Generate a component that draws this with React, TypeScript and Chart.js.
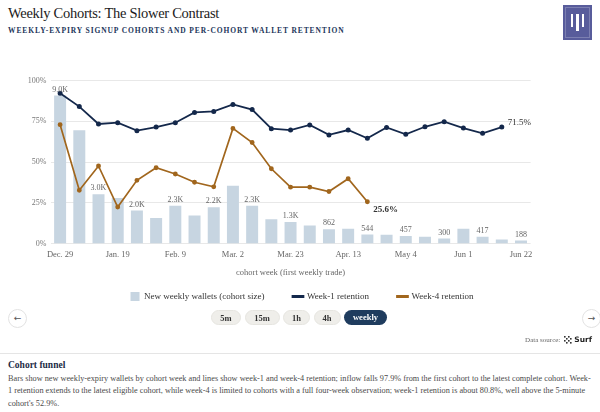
import React, { useEffect, useRef } from "react";
import { Chart, registerables } from "chart.js";

Chart.register(...registerables);

// ---- data ----
const weeks = [
  "Dec. 29", "Jan. 5", "Jan. 12", "Jan. 19", "Jan. 26", "Feb. 2", "Feb. 9", "Feb. 16", "Feb. 23",
  "Mar. 2", "Mar. 9", "Mar. 16", "Mar. 23", "Mar. 30", "Apr. 6", "Apr. 13", "Apr. 20", "Apr. 27",
  "May 4", "May 11", "May 18", "Jun 1", "Jun 8", "Jun 15", "Jun 22",
];
const shownTicks = ["Dec. 29", "Jan. 19", "Feb. 9", "Mar. 2", "Mar. 23", "Apr. 13", "May 4", "Jun 1", "Jun 22"];
const newWallets = [
  9000, 6880, 3000, 2770, 2000, 1550, 2300, 1710, 2200, 3510, 2300, 1470, 1300,
  1090, 862, 890, 544, 525, 457, 405, 300, 890, 417, 240, 188,
];
const week1Retention = [
  92.3, 84.1, 73.4, 74.2, 69.3, 71.5, 74.2, 80.5, 81.1, 85.4, 82.3, 70.5, 69.7,
  72.8, 66.7, 69.7, 64.6, 71.3, 67.1, 71.7, 74.8, 70.9, 67.7, 71.5, null,
];
const week4Retention = [
  73.0, 32.7, 47.6, 22.4, 38.8, 46.5, 42.7, 37.6, 34.8, 70.7, 62.0, 45.9, 34.6,
  34.6, 31.9, 39.8, 25.6, null, null, null, null, null, null, null, null,
];
const yTicks = [0, 25, 50, 75, 100];
const seriesNames = ["New weekly wallets (cohort size)", "Week-1 retention", "Week-4 retention"];
const timeframes = ["5m", "15m", "1h", "4h", "weekly"];

const SERIF = "'Liberation Serif', 'Times New Roman', serif";
const NAVY = "#14284b";
const ORANGE = "#a1661d";
const BAR = "#c7d5e1";
const LEGEND_CENTER_X = 302;

function fmtCount(v: number) {
  return v >= 1000 ? (v / 1000).toFixed(1) + "K" : String(Math.round(v));
}
function lastIndex(arr: (number | null)[]) {
  for (let i = arr.length - 1; i >= 0; i--) if (arr[i] != null) return i;
  return -1;
}

function CohortChart() {
  const ref = useRef<HTMLCanvasElement>(null);
  useEffect(() => {
    if (!ref.current) return;
    const labelPlugin = {
      id: "cohortLabels",
      afterLayout(chart: any) {
        const lg = chart.legend;
        if (!lg) return;
        const shift = LEGEND_CENTER_X - (lg.left + lg.right) / 2;
        lg.left += shift;
        lg.right += shift;
      },
      afterDatasetsDraw(chart: any) {
        const ctx = chart.ctx;
        ctx.save();
        const barMeta = chart.getDatasetMeta(0);
        ctx.font = `8px ${SERIF}`;
        ctx.fillStyle = "#666";
        ctx.textAlign = "center";
        ctx.textBaseline = "bottom";
        barMeta.data.forEach((el: any, j: number) => {
          if (j % 2 !== 0) return;
          ctx.fillText(fmtCount(newWallets[j]), el.x, el.y - 2);
        });
        ctx.textAlign = "left";
        ctx.textBaseline = "middle";
        const i1 = lastIndex(week1Retention);
        const p1 = chart.getDatasetMeta(1).data[i1];
        ctx.fillStyle = "#333";
        ctx.font = `9px ${SERIF}`;
        ctx.fillText((week1Retention[i1] as number).toFixed(1) + "%", p1.x + 6, p1.y - 4);
        const i4 = lastIndex(week4Retention);
        const p4 = chart.getDatasetMeta(2).data[i4];
        ctx.font = `bold 9px ${SERIF}`;
        ctx.fillText((week4Retention[i4] as number).toFixed(1) + "%", p4.x + 6, p4.y + 8);
        ctx.restore();
      },
    };
    const chart = new Chart(ref.current, {
      type: "bar",
      data: {
        labels: weeks,
        datasets: [
          {
            type: "bar",
            label: seriesNames[0],
            data: newWallets,
            yAxisID: "y1",
            backgroundColor: BAR,
            borderWidth: 0,
            categoryPercentage: 0.8,
            barPercentage: 0.78,
            order: 3,
          } as any,
          {
            type: "line",
            label: seriesNames[1],
            data: week1Retention,
            yAxisID: "y",
            borderColor: NAVY,
            backgroundColor: NAVY,
            borderWidth: 1.8,
            pointRadius: 1.6,
            pointHoverRadius: 1.6,
            tension: 0,
            order: 1,
          },
          {
            type: "line",
            label: seriesNames[2],
            data: week4Retention,
            yAxisID: "y",
            borderColor: ORANGE,
            backgroundColor: ORANGE,
            borderWidth: 1.7,
            pointRadius: 1.6,
            pointHoverRadius: 1.6,
            tension: 0,
            order: 2,
          },
        ],
      },
      options: {
        responsive: false,
        animation: false,
        layout: { padding: { top: 20.7, right: 69.4, bottom: 0, left: 0 } },
        scales: {
          x: {
            grid: { display: false, drawTicks: false },
            border: { display: false },
            afterFit: (s: any) => {
              s.height = 19.5;
            },
            ticks: {
              autoSkip: false,
              maxRotation: 0,
              padding: 6,
              color: "#666",
              font: { family: SERIF, size: 8.5 },
              callback: (_v: any, i: number) => (shownTicks.includes(weeks[i]) ? weeks[i] : ""),
            },
            title: {
              display: true,
              text: "cohort week (first weekly trade)",
              color: "#666",
              font: { family: SERIF, size: 8.5 },
              padding: { top: 0, bottom: -15.1 },
            },
          },
          y: {
            min: yTicks[0],
            max: yTicks[yTicks.length - 1],
            afterBuildTicks: (s: any) => {
              s.ticks = yTicks.map((v) => ({ value: v }));
            },
            afterFit: (s: any) => {
              s.width = 50.5;
            },
            ticks: {
              padding: 4,
              color: "#777",
              font: { family: SERIF, size: 8 },
              callback: (v: any) => v + "%",
            },
            grid: { color: "#e8e8e8", drawTicks: false, lineWidth: 1 },
            border: { display: false },
          },
          y1: { display: false, min: 0, max: 9900 },
        },
        plugins: {
          legend: {
            position: "bottom",
            labels: {
              usePointStyle: true,
              boxHeight: 9,
              padding: 29,
              color: "#333",
              font: { family: SERIF, size: 9 },
              sort: (a: any, b: any) => a.datasetIndex - b.datasetIndex,
              generateLabels: (c: any) => {
                const items = (Chart.defaults.plugins.legend.labels as any).generateLabels(c);
                return items.map((it: any) => {
                  if (it.datasetIndex === 0) {
                    return { ...it, pointStyle: "rect", lineWidth: 0, fillStyle: BAR, strokeStyle: BAR };
                  }
                  const col = it.datasetIndex === 1 ? NAVY : ORANGE;
                  return { ...it, pointStyle: "line", lineWidth: 3, strokeStyle: col, fillStyle: col };
                });
              },
            },
          },
          tooltip: { enabled: false },
        },
      },
      plugins: [labelPlugin],
    });
    return () => chart.destroy();
  }, []);
  return <canvas ref={ref} width={600} height={251} style={{ display: "block", width: 600, height: 251 }} />;
}

function Logo() {
  return (
    <div style={{ position: "absolute", left: 563, top: 5, width: 29, height: 35, background: "#585c9b" }}>
      <div
        style={{
          position: "absolute",
          left: 2,
          top: 2,
          right: 2,
          bottom: 2,
          border: "1px solid rgba(255,255,255,0.22)",
        }}
      />
      <div style={{ position: "absolute", left: 7.5, top: 9, width: 2.6, height: 13, background: "#fff" }} />
      <div style={{ position: "absolute", left: 13.2, top: 9, width: 2.6, height: 17, background: "#fff" }} />
      <div style={{ position: "absolute", left: 18.9, top: 9, width: 2.6, height: 13, background: "#fff" }} />
    </div>
  );
}

function SurfIcon() {
  const cells = [];
  for (let r = 0; r < 4; r++)
    for (let c = 0; c < 4; c++)
      if ((r + c) % 2 === 0) cells.push(<rect key={r + "-" + c} x={c * 2} y={r * 2} width={1.6} height={1.6} fill="#333" />);
  return (
    <svg width={8} height={8} viewBox="0 0 8 8" style={{ display: "inline-block", verticalAlign: "middle", margin: "0 2px 0 4px" }}>
      {cells}
    </svg>
  );
}

const arrowStyle: React.CSSProperties = {
  position: "absolute",
  top: 309,
  width: 17,
  height: 17,
  borderRadius: "50%",
  border: "1px solid #e2e2e2",
  background: "#fff",
  color: "#555",
  fontFamily: "'DejaVu Sans', sans-serif",
  fontSize: 9,
  lineHeight: "17px",
  textAlign: "center",
  boxSizing: "content-box",
};

const pillWidths = [30, 35, 27, 27, 43];

export default function App() {
  return (
    <div
      style={{
        position: "fixed",
        left: 0,
        top: 0,
        width: 600,
        height: 412,
        background: "#fff",
        overflow: "hidden",
        fontFamily: SERIF,
      }}
    >
      <div
        style={{
          position: "absolute",
          left: 8,
          top: 5,
          fontSize: 14.5,
          letterSpacing: -0.28,
          color: "#1b1b1b",
          whiteSpace: "nowrap",
        }}
      >
        Weekly Cohorts: The Slower Contrast
      </div>
      <div
        style={{
          position: "absolute",
          left: 8,
          top: 26,
          fontSize: 7.5,
          fontWeight: "bold",
          letterSpacing: 0.9,
          color: "#22355a",
          whiteSpace: "nowrap",
        }}
      >
        WEEKLY-EXPIRY SIGNUP COHORTS AND PER-COHORT WALLET RETENTION
      </div>
      <Logo />
      <div style={{ position: "absolute", left: 0, top: 60 }}>
        <CohortChart />
      </div>
      <div style={{ ...arrowStyle, left: 8 }}>←</div>
      <div style={{ ...arrowStyle, left: 582 }}>→</div>
      <div style={{ position: "absolute", left: 211, top: 310, display: "flex", gap: 3.5 }}>
        {timeframes.map((t, i) => {
          const active = t === "weekly";
          return (
            <div
              key={t}
              style={{
                width: pillWidths[i],
                height: 15,
                lineHeight: "15px",
                textAlign: "center",
                borderRadius: 8,
                background: active ? "#1f3c5e" : "#efeeea",
                color: active ? "#fff" : "#333",
                fontSize: 8.5,
                fontWeight: "bold",
                border: active ? "none" : "1px solid #e6e5e0",
                boxSizing: "border-box",
              }}
            >
              {t}
            </div>
          );
        })}
      </div>
      <div
        style={{
          position: "absolute",
          right: 8,
          top: 335,
          fontSize: 7,
          color: "#666",
          whiteSpace: "nowrap",
          display: "flex",
          alignItems: "center",
        }}
      >
        <span>Data source:</span>
        <SurfIcon />
        <span style={{ fontFamily: "'DejaVu Sans', sans-serif", fontWeight: "bold", color: "#222", fontSize: 7.5 }}>Surf</span>
      </div>
      <div style={{ position: "absolute", left: 0, top: 353, width: 600, height: 1, background: "#e5e5e5" }} />
      <div style={{ position: "absolute", left: 8, top: 360, fontSize: 9.5, fontWeight: "bold", color: "#1c2b45" }}>
        Cohort funnel
      </div>
      <div
        style={{
          position: "absolute",
          left: 8,
          top: 373,
          width: 586,
          fontSize: 8.25,
          lineHeight: "12.3px",
          color: "#4a4a4a",
        }}
      >
        Bars show new weekly-expiry wallets by cohort week and lines show week-1 and week-4 retention; inflow falls
        97.9% from the first cohort to the latest complete cohort. Week-1 retention extends to the latest eligible
        cohort, while week-4 is limited to cohorts with a full four-week observation; week-1 retention is about 80.8%,
        well above the 5-minute cohort's 52.9%.
      </div>
    </div>
  );
}
